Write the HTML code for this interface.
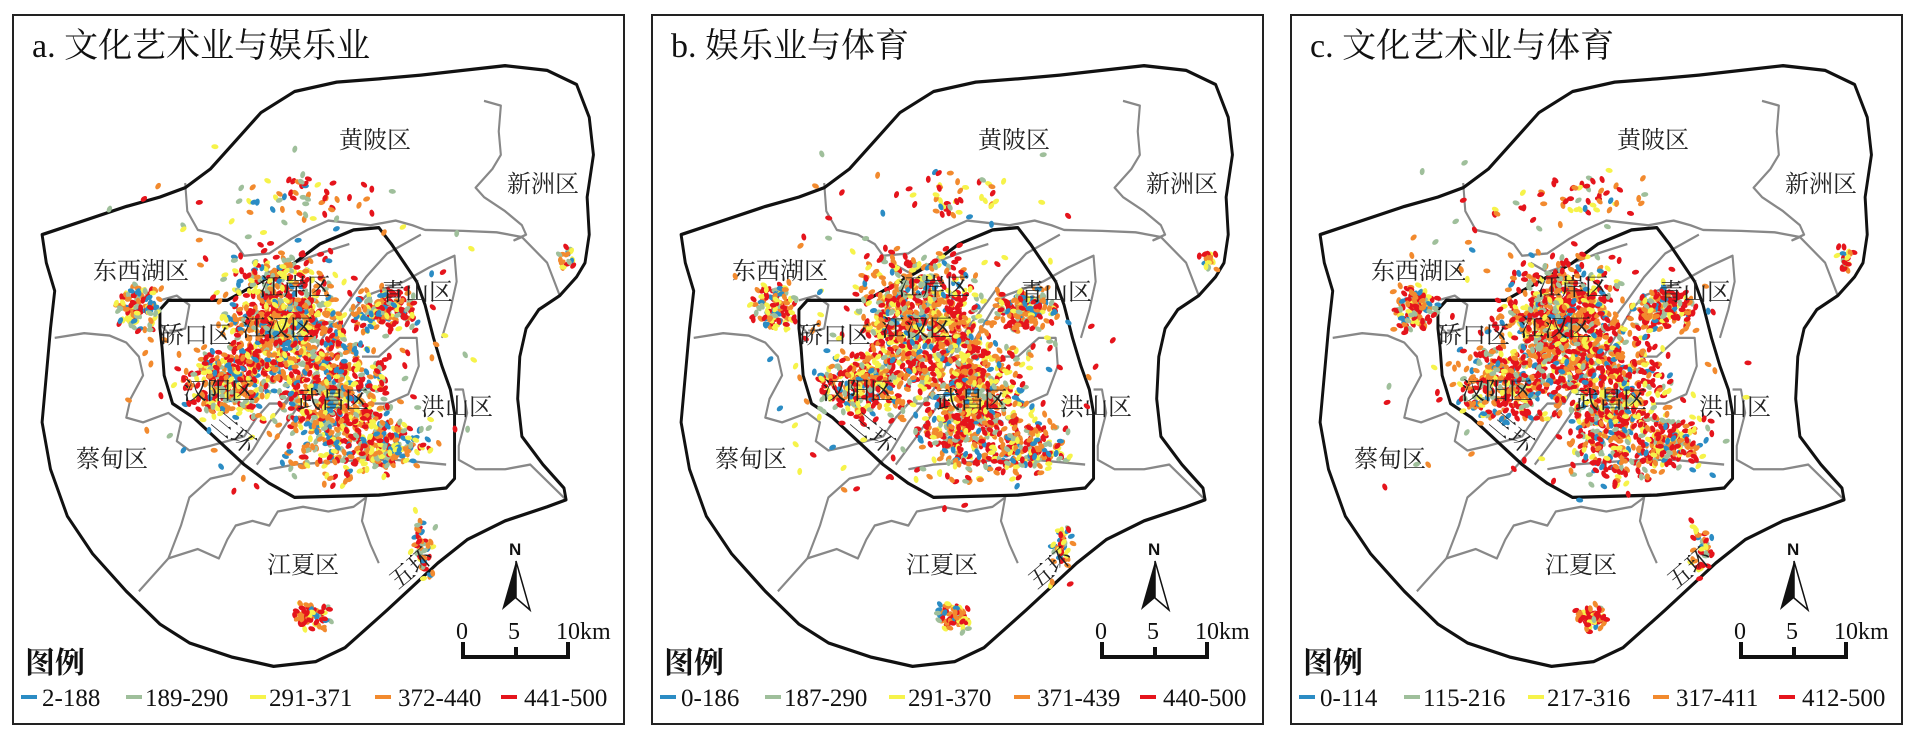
<!DOCTYPE html>
<html><head><meta charset="utf-8">
<style>
html,body{margin:0;padding:0;background:#fff;}
svg{display:block;}
.t{font-family:"Liberation Serif","Noto Serif CJK SC",serif;fill:#111;}
.d{font-family:"Liberation Serif","Noto Serif CJK SC",serif;font-size:24px;fill:#222;}
.lg{font-family:"Liberation Serif",serif;font-size:25px;fill:#111;}
</style></head>
<body>
<svg id="s" width="1919" height="736" viewBox="0 0 1919 736" xmlns="http://www.w3.org/2000/svg">
<defs>
<g id="map">
 <g transform="scale(0.42088,0.46926)" fill="none" stroke-linejoin="round">
  <g stroke="#888" stroke-width="5">
   <polyline points="440,390 445,450 470,490 520,500 560,520 580,545 640,540 690,510 730,490 780,470 830,475 880,480 940,470 980,480 1010,490 1100,492 1180,495 1240,505 1300,560 1330,630"/>
   <polyline points="1150,215 1190,225 1185,280 1190,330 1170,360 1130,400 1150,420 1200,450 1240,480 1250,500 1222,512 1240,505"/>
   <polyline points="600,960 640,900 700,830 740,760 780,700 830,640 870,590 920,540 1000,500"/>
   <polyline points="610,990 660,930 720,850 760,780 800,720 840,660 870,630 960,600 1020,570 1080,545 1085,600 1070,660 1050,720"/>
   <polyline points="130,720 200,710 260,715 300,730 330,760 340,800 310,850 300,890 340,900 400,880 430,900 420,940 450,960 500,950 540,940 580,930 610,890 640,860 680,860 700,830"/>
   <polyline points="330,1260 400,1190 430,1120 450,1060 500,1020 550,1010 600,960"/>
   <polyline points="400,1190 470,1170 520,1190 540,1150 560,1120 600,1110 640,1120 660,1090 720,1080 780,1090 840,1080 870,1060 860,1110 880,1160 900,1200"/>
   <polyline points="1080,830 1100,830 1110,880 1090,950 1090,980 1130,1000 1200,1000 1260,990 1345,1065"/>
   <polyline points="640,1000 700,990 780,985 860,980 940,980 1000,985 1060,990"/>
   <polyline points="860,760 900,760 950,720 990,720 995,780 970,840 920,860 890,860"/>
   <polyline points="600,560 640,580 700,560 760,540 830,520"/>
   <polyline points="380,640 420,630 450,650 440,700 400,710 380,690"/>
  </g>
  <path stroke="#111" stroke-width="7" d="M620,240 L700,195 800,175 900,168 1000,160 1100,150 1200,140 1300,150 1370,180 1400,250 1410,330 1395,420 1400,500 1390,560 1370,590 1330,630 1280,660 1250,700 1235,760 1230,850 1240,930 1290,990 1340,1040 1345,1065 1300,1080 1200,1110 1110,1150 1040,1200 980,1250 920,1300 870,1340 820,1380 750,1410 650,1420 550,1400 450,1370 380,1330 300,1260 220,1180 160,1100 120,1000 100,900 110,800 120,700 130,620 110,560 100,500 200,470 300,440 380,420 440,400 500,360 560,300 Z"/>
  <path stroke="#111" stroke-width="7" d="M840,490 L900,485 930,520 960,560 990,600 1010,650 1030,720 1050,780 1070,830 1080,880 1080,960 1080,1020 1060,1040 900,1055 700,1060 640,1030 580,990 520,940 460,890 410,860 390,800 385,740 380,700 380,660 400,640 440,640 540,640 580,620 640,590 700,560 760,520 Z"/>
 </g>
 <g stroke="#111" stroke-width="4" fill="none">
  <polyline points="463,642 463,657 568,657 568,642"/>
  <line x1="516" y1="647" x2="516" y2="657"/>
 </g>
 <text class="t" x="456" y="639" font-size="24">0</text>
 <text class="t" x="508" y="639" font-size="24">5</text>
 <text class="t" x="556" y="639" font-size="24">10km</text>
 <text x="509" y="555" font-family="Liberation Sans,sans-serif" font-size="17" font-weight="bold" fill="#111">N</text>
 <polygon points="516,561 502,610 516,598" fill="#111"/>
 <polygon points="516,561 530,610 516,598" fill="#fff" stroke="#111" stroke-width="1.5"/>
 <text class="d" x="339" y="148">黄陂区</text>
 <text class="d" x="507" y="192">新洲区</text>
 <text class="d" x="93" y="279">东西湖区</text>
 <text class="d" x="76" y="467">蔡甸区</text>
 <text class="d" x="267" y="573">江夏区</text>
 <text class="d" x="421" y="415">洪山区</text>
 <text class="t" x="25" y="673" font-size="30" font-weight="bold" font-family="Liberation Sans,'Noto Sans CJK SC',sans-serif">图例</text>
</g>
<g id="lab2">
 <text class="d" x="259" y="295">江岸区</text>
 <text class="d" x="381" y="300">青山区</text>
 <text class="d" x="160" y="343">硚口区</text>
 <text class="d" x="242" y="336">江汉区</text>
 <text class="d" x="183" y="399">汉阳区</text>
 <text class="d" x="297" y="408">武昌区</text>
 <text class="d" x="0" y="0" transform="translate(210,424) rotate(40)">三环</text>
 <text class="d" x="0" y="0" transform="translate(398,590) rotate(-40)">五环</text>
</g>
</defs>
<g id="p0" transform="translate(0,0)">
 <rect x="13" y="15" width="611" height="709" fill="#fff" stroke="#222" stroke-width="2"/>
 <use href="#map"/>
 <g class="dots"></g>
 <use href="#lab2"/>
 <text class="t" x="32" y="57" font-size="34">a. 文化艺术业与娱乐业</text>
 <g class="leg"></g>
</g>
<g id="p1" transform="translate(639,0)">
 <rect x="13" y="15" width="611" height="709" fill="#fff" stroke="#222" stroke-width="2"/>
 <use href="#map"/>
 <g class="dots"></g>
 <use href="#lab2"/>
 <text class="t" x="32" y="57" font-size="34">b. 娱乐业与体育</text>
 <g class="leg"></g>
</g>
<g id="p2" transform="translate(1278,0)">
 <rect x="13" y="15" width="611" height="709" fill="#fff" stroke="#222" stroke-width="2"/>
 <use href="#map"/>
 <g class="dots"></g>
 <use href="#lab2"/>
 <text class="t" x="32" y="57" font-size="34">c. 文化艺术业与体育</text>
 <g class="leg"></g>
</g>
</svg>
<script>
(function(){
var cols=["#2b8cc4","#9fbf9b","#f6f34a","#f28a2e","#e5141c"];
var legs=[["2-188","189-290","291-371","372-440","441-500"],
["0-186","187-290","291-370","371-439","440-500"],
["0-114","115-216","217-316","317-411","412-500"]];
var lx=[[21,42],[126,145],[250,269],[375,398],[501,524]];
var weights=[[.13,.13,.2,.26,.28],[.1,.12,.2,.26,.32],[.1,.1,.15,.25,.4]];
var clusters=[[282,322,58,62,750],[228,385,48,36,300],[335,405,55,75,650],[385,310,30,20,160],
[392,445,36,26,150],[137,307,22,24,110],[313,617,18,14,60],[423,551,12,32,40],[568,260,9,14,18],
[295,335,180,170,160],[305,197,65,25,40]];
var seed=7;
function r(){seed=(seed*16807)%2147483647;return (seed-1)/2147483646;}
for(var p=0;p<3;p++){
 var g=document.querySelectorAll("#p"+p+" .dots")[0];
 seed=11+p*97;
 var h="";
 for(var c=0;c<clusters.length;c++){
  var k=clusters[c];
  for(var i=0;i<k[4];i++){
   var x=k[0]+(r()+r()-1)*k[2]*1.15;
   var y=k[1]+(r()+r()-1)*k[3]*1.15;
   var u=r(),w=weights[p],ci=0,acc=w[0];
   while(u>acc&&ci<4){ci++;acc+=w[ci];}
   var a=Math.floor(r()*180);
   h+='<ellipse cx="'+x.toFixed(1)+'" cy="'+y.toFixed(1)+'" rx="3.6" ry="2.4" fill="'+cols[ci]+'" transform="rotate('+a+' '+x.toFixed(1)+' '+y.toFixed(1)+')"/>';
  }
 }
 g.innerHTML=h;
 var L=document.querySelectorAll("#p"+p+" .leg")[0],s="";
 for(var j=0;j<5;j++){
  s+='<rect x="'+lx[j][0]+'" y="695" width="16" height="4" fill="'+cols[j]+'"/>';
  s+='<text class="lg" x="'+lx[j][1]+'" y="706">'+legs[p][j]+'</text>';
 }
 L.innerHTML=s;
}
})();
</script>
</body></html>
